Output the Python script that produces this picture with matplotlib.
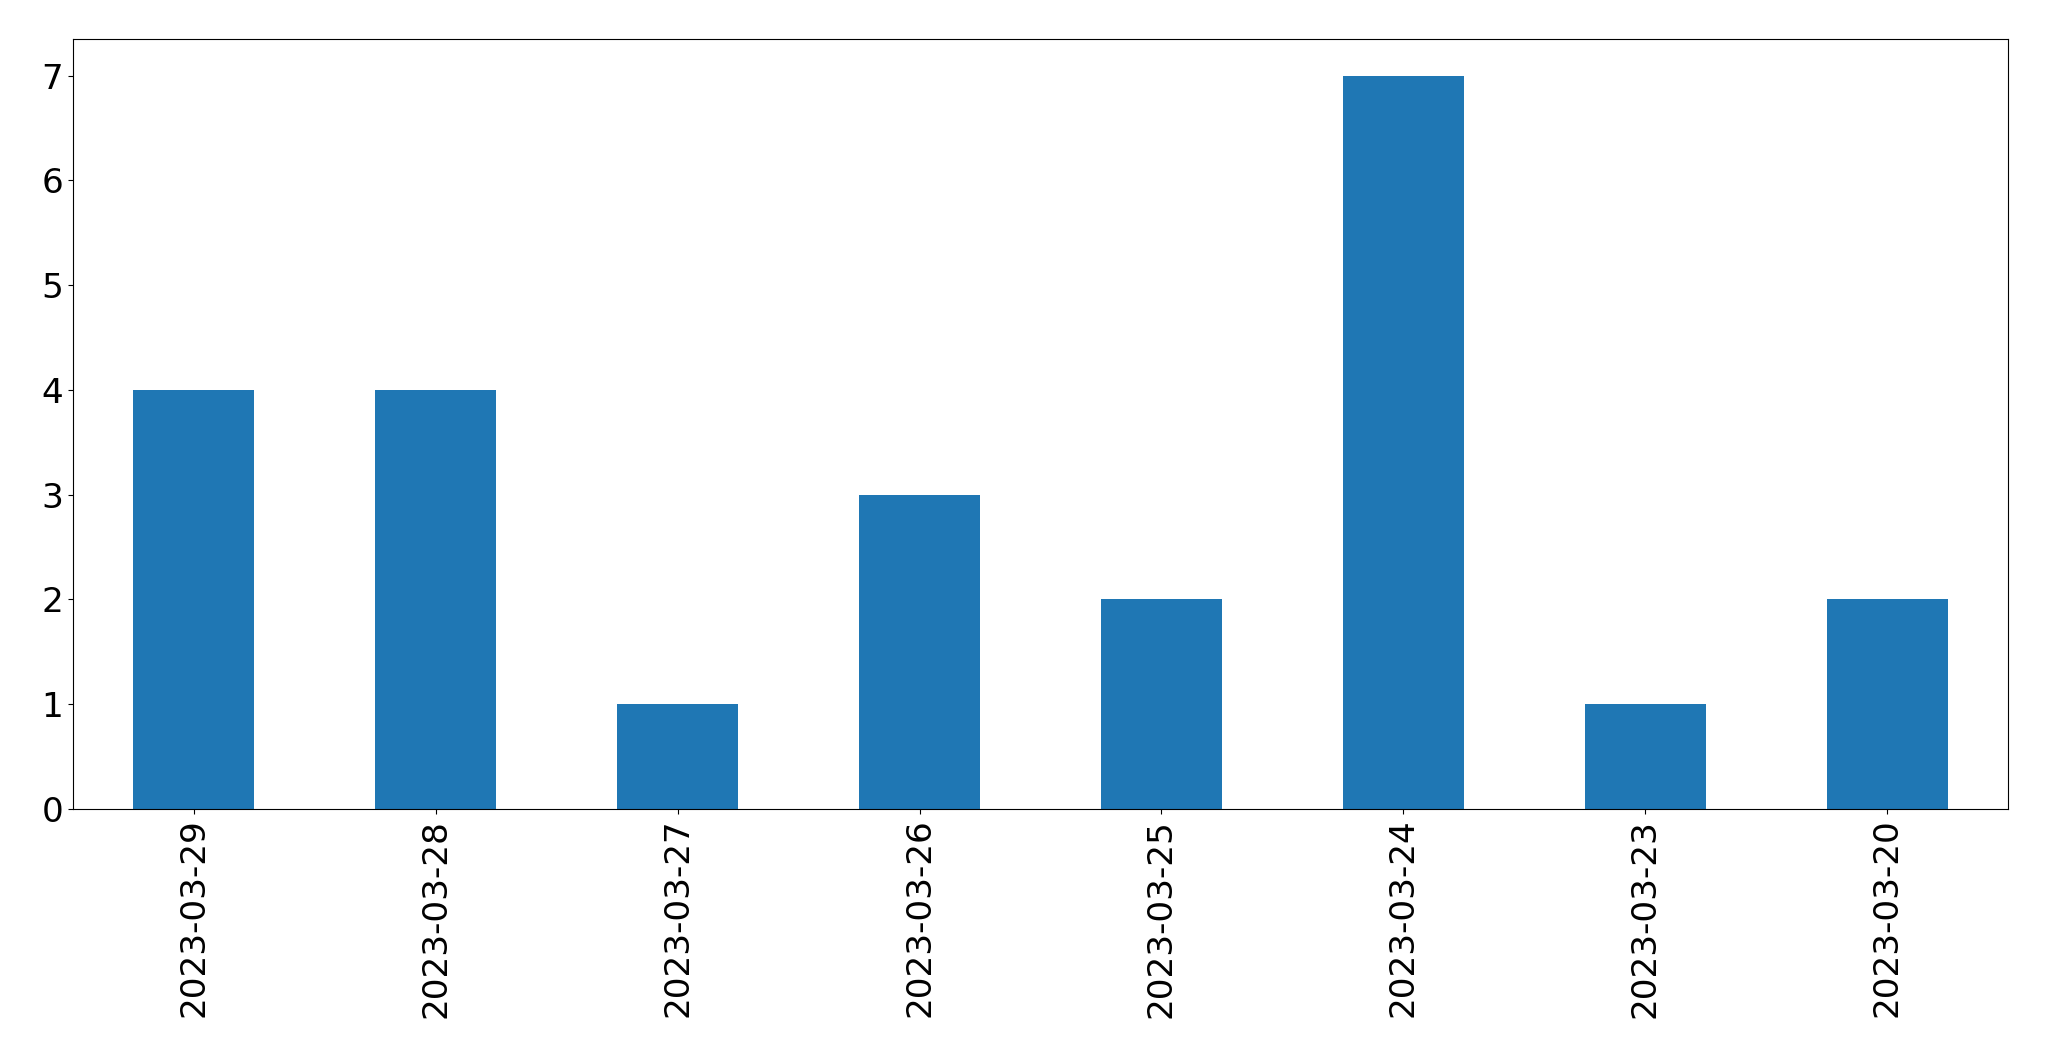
import matplotlib
matplotlib.use('Agg')
import matplotlib.pyplot as plt
import numpy as np

# Daily counts
dates = ['2023-03-29', '2023-03-28', '2023-03-27', '2023-03-26',
         '2023-03-25', '2023-03-24', '2023-03-23', '2023-03-20']
counts = [4, 4, 1, 3, 2, 7, 1, 2]

fig, ax = plt.subplots(figsize=(20.49, 10.61), dpi=100, facecolor='white')
fig.subplots_adjust(left=0.0356, right=0.98, top=0.9632, bottom=0.2375)

x = np.arange(len(dates))
ax.bar(x, counts, width=0.5, color='#1f77b4')

ax.set_xlim(-0.5, len(dates) - 0.5)
ax.set_ylim(0, 7.35)
ax.set_xticks(x)
ax.set_xticklabels(dates, rotation=90, fontsize=24.7)
ax.tick_params(axis='y', labelsize=24.7)

plt.savefig('out.png', dpi=100, facecolor='white')
plt.close()
